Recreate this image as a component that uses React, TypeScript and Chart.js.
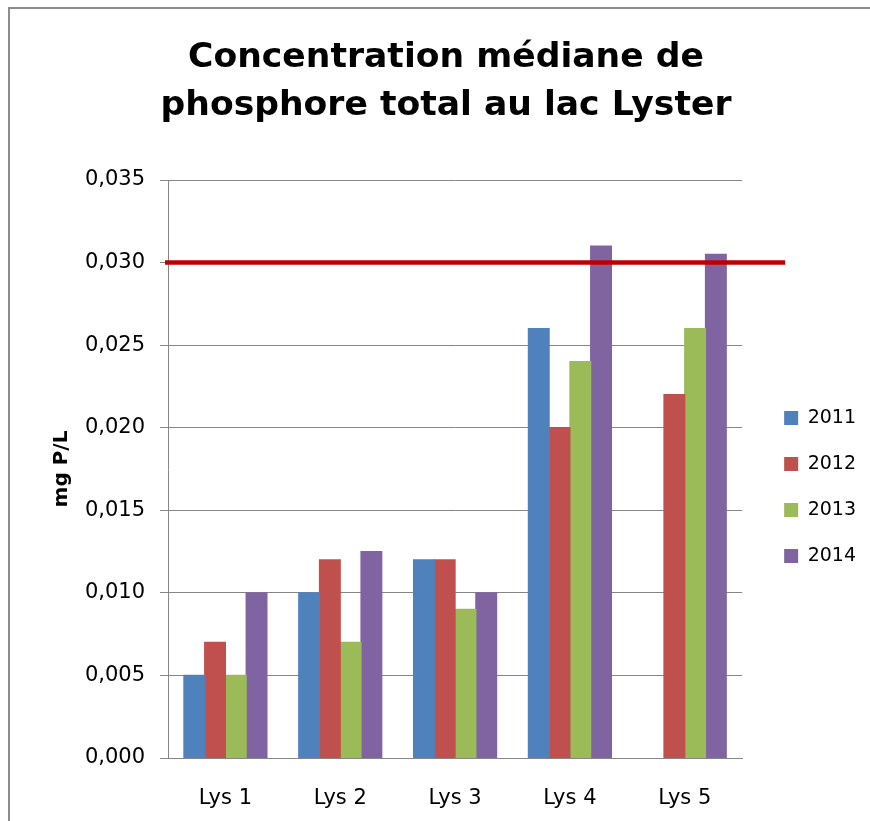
import React, { useEffect, useRef } from "react";
import { Chart, registerables } from "chart.js";

Chart.register(...registerables);

// ---- Data ----
const categories = ["Lys 1", "Lys 2", "Lys 3", "Lys 4", "Lys 5"];
const seriesLabels = ["2011", "2012", "2013", "2014"];
const values2011: (number | null)[] = [0.005, 0.01, 0.012, 0.026, null];
const values2012: (number | null)[] = [0.007, 0.012, 0.012, 0.02, 0.022];
const values2013: (number | null)[] = [0.005, 0.007, 0.009, 0.024, 0.026];
const values2014: (number | null)[] = [0.01, 0.0125, 0.01, 0.031, 0.0305];
const seriesColors = ["#4F81BD", "#C0504D", "#9BBB59", "#8064A2"];
const thresholdValue = 0.03;
const yMin = 0;
const yMax = 0.035;
const yStep = 0.005;
const titleLines = ["Concentration médiane de", "phosphore total au lac Lyster"];
const yAxisTitle = "mg P/L";

const FONT = "'DejaVu Sans', sans-serif";
const W = 870;
const H = 821;
const PAD_R = 4;
const PAD_L = PAD_R + 22;
const PLOT_LEFT = 168;

const thresholdPlugin = {
  id: "thresholdLine",
  afterDatasetsDraw(chart: any) {
    const y = chart.scales.y.getPixelForValue(thresholdValue);
    const { left, right } = chart.chartArea;
    const ctx = chart.ctx;
    ctx.save();
    ctx.strokeStyle = "#C00000";
    ctx.lineWidth = 4.5;
    ctx.beginPath();
    ctx.moveTo(left - 3, y);
    ctx.lineTo(right + 43, y);
    ctx.stroke();
    ctx.restore();
  },
};

export default function App() {
  const canvasRef = useRef<HTMLCanvasElement | null>(null);

  useEffect(() => {
    if (!canvasRef.current) return;
    Chart.defaults.font.family = FONT;
    const allValues = [values2011, values2012, values2013, values2014];
    const chart = new Chart(canvasRef.current, {
      type: "bar",
      data: {
        labels: categories,
        datasets: seriesLabels.map((label, i) => ({
          label,
          data: allValues[i],
          backgroundColor: seriesColors[i],
          borderWidth: 0,
          inflateAmount: 0.6,
          categoryPercentage: 0.723,
          barPercentage: 1.0,
        })),
      },
      options: {
        animation: false,
        responsive: false,
        maintainAspectRatio: false,
        layout: { padding: { left: PAD_L, right: PAD_R, top: 0, bottom: 0 } },
        plugins: {
          title: {
            display: true,
            text: titleLines,
            color: "#000",
            font: { family: FONT, size: 34.6, weight: "bold", lineHeight: 48 / 34.6 },
            padding: { top: 34, bottom: 50 },
          },
          legend: {
            position: "right",
            title: {
              display: true,
              text: "",
              font: { size: 10, lineHeight: 1 },
              padding: { top: 0, bottom: 143 },
            },
            labels: {
              boxWidth: 14,
              boxHeight: 14,
              padding: 27,
              color: "#000",
              font: { family: FONT, size: 19 },
            },
          },
          tooltip: { enabled: false },
        },
        scales: {
          x: {
            grid: { display: false },
            border: { display: true, color: "#868686" },
            ticks: { color: "#000", font: { family: FONT, size: 21 }, padding: 20 },
            afterFit: (s: any) => {
              s.height = 63;
            },
          },
          y: {
            min: yMin,
            max: yMax,
            ticks: {
              stepSize: yStep,
              color: "#000",
              font: { family: FONT, size: 21 },
              padding: 15,
              callback: (v: any) => Number(v).toFixed(3).replace(".", ","),
            },
            grid: { color: "#868686", tickLength: 8, drawTicks: true },
            border: { display: true, color: "#868686" },
            title: {
              display: true,
              text: yAxisTitle,
              color: "#000",
              font: { family: FONT, size: 20, weight: "bold", lineHeight: 1.2 },
              padding: { top: 62 - PAD_L - 12, bottom: 0 },
            },
            afterFit: (s: any) => {
              s.width = PLOT_LEFT - PAD_L;
            },
          },
          y2: {
            position: "right",
            display: true,
            grid: { display: false, drawTicks: false },
            border: { display: false },
            ticks: { display: false },
            afterFit: (s: any) => {
              s.width = 15;
            },
          },
        },
      },
      plugins: [thresholdPlugin],
    } as any);
    return () => chart.destroy();
  }, []);

  return (
    <div style={{ position: "absolute", left: 0, top: 0, width: W, height: H, overflow: "hidden", background: "#fff" }}>
      <div style={{ position: "absolute", left: 8, top: 7, width: W - 8, height: 2, background: "#8c8c8c" }} />
      <div style={{ position: "absolute", left: 8, top: 7, width: 2, height: H - 7, background: "#8c8c8c" }} />
      <canvas ref={canvasRef} width={W} height={H} style={{ position: "absolute", left: 0, top: 0, display: "block" }} />
    </div>
  );
}
